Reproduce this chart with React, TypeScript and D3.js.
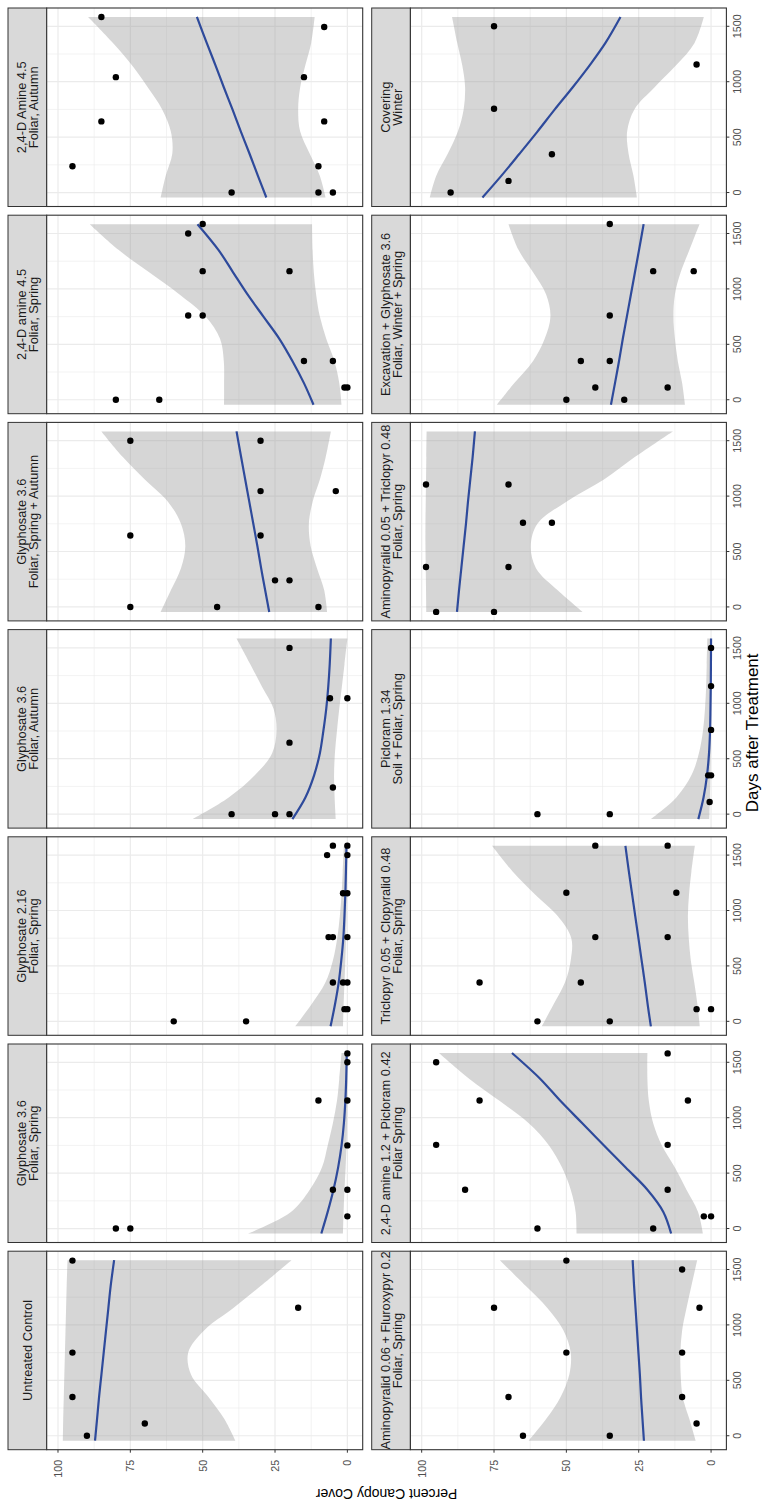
import React, { useEffect, useRef } from 'react';
import * as d3 from 'd3';

// facet order: first 7 = top row of the original (landscape) plot, next 7 = bottom row
const stripLabels = [
  ['Untreated Control'],
  ['Glyphosate 3.6', 'Foliar, Spring'],
  ['Glyphosate 2.16', 'Foliar, Spring'],
  ['Glyphosate 3.6', 'Foliar, Autumn'],
  ['Glyphosate 3.6', 'Foliar, Spring + Autumn'],
  ['2,4-D amine 4.5', 'Foliar, Spring'],
  ['2,4-D Amine 4.5', 'Foliar, Autumn'],
  ['Aminopyralid 0.06 + Fluroxypyr 0.2', 'Foliar, Spring'],
  ['2,4-D amine 1.2 + Picloram 0.42', 'Foliar Spring'],
  ['Triclopyr 0.05 + Clopyralid 0.48', 'Foliar, Spring'],
  ['Picloram 1.34', 'Soil + Foliar, Spring'],
  ['Aminopyralid 0.05 + Triclopyr 0.48', 'Foliar, Spring'],
  ['Excavation + Glyphosate 3.6', 'Foliar, Winter + Spring'],
  ['Covering', 'Winter'],
];

// observations: [days after treatment, percent cover]
const pointsByPanel = [
  [[0, 90], [110, 70], [350, 95], [750, 95], [1155, 17], [1580, 95]],
  [[0, 80], [0, 75], [110, 0], [350, 5], [350, 0], [750, 0], [1155, 10], [1155, 0], [1500, 0], [1580, 0]],
  [[0, 60], [0, 35], [110, 0], [110, 1], [350, 5], [350, 1.5], [350, 0], [760, 6.5], [760, 5], [760, 0],
    [1155, 1.5], [1155, 0], [1500, 7], [1500, 0], [1585, 5], [1585, 0]],
  [[0, 40], [0, 25], [0, 20], [240, 5], [645, 20], [1045, 6], [1045, 0], [1500, 20]],
  [[0, 75], [0, 45], [0, 10], [240, 25], [240, 20], [645, 75], [645, 30], [1045, 30], [1045, 4], [1500, 75], [1500, 30]],
  [[0, 80], [0, 65], [110, 0], [110, 1], [350, 15], [350, 5], [760, 55], [760, 50], [1160, 50], [1160, 20], [1500, 55], [1585, 50]],
  [[0, 40], [0, 10], [0, 5], [237, 95], [237, 10], [642, 85], [642, 8], [1041, 80], [1041, 15], [1494, 8], [1584, 85]],
  [[0, 65], [0, 35], [110, 5], [350, 70], [350, 10], [750, 50], [750, 10], [1155, 75], [1155, 4], [1500, 10], [1580, 50]],
  [[0, 60], [0, 20], [110, 2.5], [110, 0], [350, 85], [350, 15], [755, 95], [755, 15], [1155, 80], [1155, 8], [1500, 95], [1580, 15]],
  [[0, 60], [0, 35], [110, 5], [110, 0], [350, 80], [350, 45], [760, 40], [760, 15], [1160, 50], [1160, 12], [1585, 40], [1585, 15]],
  [[0, 60], [0, 35], [110, 0.5], [350, 1], [350, 0], [760, 0], [1155, 0], [1500, 0]],
  [[-45, 95], [-45, 75], [360, 98.5], [360, 70], [760, 65], [760, 55], [1105, 98.5], [1105, 70]],
  [[0, 50], [0, 30], [110, 40], [110, 15], [350, 45], [350, 35], [760, 35], [1160, 20], [1160, 6], [1585, 35]],
  [[0, 90], [105, 70], [345, 55], [756, 75], [1155, 5], [1500, 75]],
];

// smoother at these days
const smoothDays = [-45, 150, 350, 550, 750, 950, 1150, 1350, 1584];

const fitByPanel = [
  [87.2, 86.5, 85.8, 85.0, 84.2, 83.4, 82.6, 81.8, 80.6],
  [9, 6.8, 4.8, 3.2, 2, 1.2, 0.7, 0.4, 0.2],
  [5.8, 4.3, 3, 2.1, 1.4, 1, 0.7, 0.5, 0.3],
  [19, 14.5, 11.5, 9.5, 8.3, 7.3, 6.6, 6.1, 5.7],
  [27, 28.4, 29.8, 31.1, 32.5, 33.9, 35.3, 36.7, 38.3],
  [11.7, 15, 19, 23.5, 29, 34.5, 39.5, 44.5, 51.8],
  [28, 30.9, 33.8, 36.8, 39.7, 42.7, 45.6, 48.6, 52],
  [23.2, 23.7, 24.2, 24.6, 25.1, 25.6, 26.1, 26.6, 27.1],
  [13.8, 16.5, 22, 29.5, 37, 44.5, 52, 59, 68.8],
  [20.8, 21.9, 22.9, 24, 25.1, 26.2, 27.3, 28.4, 29.6],
  [4.4, 2.6, 1.4, 0.7, 0.35, 0.2, 0.1, 0.05, 0],
  [87.8, 87.1, 86.3, 85.5, 84.7, 84.0, 83.2, 82.4, 81.6],
  [34.6, 33.2, 31.8, 30.5, 29.1, 27.7, 26.3, 24.9, 23.3],
  [79, 72.5, 66.2, 60, 54, 47.8, 41.9, 36.5, 31.3],
];

const lowerByPanel = [
  [38.7, 42.5, 48, 54, 55, 49.5, 39.5, 30, 19.3],
  [1.5, 1.3, 1.0, 0.6, 0.3, 0.1, 0, 0, 0],
  [1.5, 1.3, 1.0, 0.7, 0.45, 0.3, 0.2, 0.1, 0.05],
  [4, 4.4, 4.6, 4.3, 3.6, 2.8, 1.9, 1, 0],
  [7, 8, 10.5, 12.7, 13.3, 12, 9.5, 7.5, 5.7],
  [2, 2.8, 4.5, 7.3, 9.5, 10.8, 11.6, 12, 12.2],
  [7.5, 9.5, 13, 16.3, 17, 16.3, 14.5, 12.5, 11.3],
  [5.3, 7.5, 9.8, 10.5, 10.6, 10, 8.5, 6.8, 4.8],
  [2.8, 4.5, 8.5, 12.5, 17, 20, 21.5, 22, 22],
  [3.9, 4.7, 5.8, 7, 7.7, 8, 7.6, 6.8, 5.6],
  [0.6, 0.4, 0.25, 0.15, 0.1, 0.05, 0, 0, 0],
  [44.4, 53, 60.5, 62.3, 60, 50, 37, 26.5, 13.2],
  [9, 10, 11.5, 12.5, 13, 12.5, 10.5, 7.5, 4],
  [25.6, 26.8, 28.5, 29, 26.5, 19.5, 12, 5.7, 2.5],
];

const upperByPanel = [
  [98.3, 98.2, 98.0, 97.8, 97.6, 97.4, 97.2, 97.0, 96.7],
  [34.3, 19.5, 13, 8.8, 6.8, 5, 3.6, 2.8, 2],
  [18, 12.5, 7.6, 5, 3.5, 2.6, 2, 1.6, 1.2],
  [53.5, 41, 32, 26, 24.5, 25.5, 29.5, 33.5, 38.3],
  [64.5, 61, 57.5, 56, 57.5, 62, 70, 77.5, 85],
  [42.6, 42.6, 42.7, 44, 49, 58, 68.5, 79, 89],
  [64.5, 62.8, 60.5, 61, 64, 69, 74.5, 81, 89.6],
  [63, 57, 52, 49, 48.5, 51, 56.5, 64, 73],
  [46.5, 46.8, 48.5, 51.5, 56, 63, 73, 83.5, 94],
  [58.5, 54.5, 50.5, 48.5, 48.3, 53, 61, 68.5, 75.7],
  [20.8, 12, 6.8, 4.2, 2.8, 2.1, 1.7, 1.5, 1.3],
  [98.4, 98.5, 98.6, 98.7, 98.7, 98.6, 98.5, 98.4, 98.3],
  [74, 68, 61.5, 57.5, 55.5, 57, 61.5, 66.5, 70],
  [97.2, 95, 91, 87.5, 85.5, 85, 86, 87.7, 89.5],
];

const dayTicks = [0, 500, 1000, 1500];
const dayMinor = [250, 750, 1250];
const pctTicks = [0, 25, 50, 75, 100];
const pctMinor = [12.5, 37.5, 62.5, 87.5];

const FONT = "'Liberation Sans', Arial, Helvetica, sans-serif";

const App = () => {
  const svgRef = useRef(null);

  useEffect(() => {
    // plot is laid out landscape (1502 x 763) and turned a quarter turn
    const W = 1502;
    const left = 52.3;
    const panelW = 198.5;
    const gap = 8.7;
    const stripH = 38.7;
    const panelH = 316;
    const rowTop = [8, 371.7];

    const svg = d3.select(svgRef.current);
    svg.selectAll('*').remove();

    const root = svg.append('g').attr('transform', `translate(0,${W}) rotate(-90)`);
    const defs = svg.append('defs');

    const x = d3.scaleLinear().domain([-126, 1665]).range([0, panelW]);
    const y = d3.scaleLinear().domain([-5.3, 103.9]).range([panelH, 0]);

    const line = d3.line()
      .x((d) => x(d[0]))
      .y((d) => y(d[1]))
      .curve(d3.curveCatmullRom.alpha(0.5));

    const area = d3.area()
      .x((d) => x(d[0]))
      .y0((d) => y(d[1]))
      .y1((d) => y(d[2]))
      .curve(d3.curveCatmullRom.alpha(0.5));

    stripLabels.forEach((label, p) => {
      const r = Math.floor(p / 7);
      const c = p % 7;
      const px = left + c * (panelW + gap);
      const sy = rowTop[r];
      const py = sy + stripH;

      // strip
      defs.append('clipPath').attr('id', `strip-clip-${p}`)
        .append('rect').attr('x', px).attr('y', sy).attr('width', panelW).attr('height', stripH);
      root.append('rect')
        .attr('x', px).attr('y', sy).attr('width', panelW).attr('height', stripH)
        .attr('fill', '#D9D9D9').attr('stroke', '#333333').attr('stroke-width', 1);
      const st = root.append('g').attr('clip-path', `url(#strip-clip-${p})`);
      const fs = 12.8;
      const cy = sy + stripH / 2;
      const lh = 12;
      label.forEach((txt, i) => {
        const off = (i - (label.length - 1) / 2) * lh;
        st.append('text')
          .attr('x', px + panelW / 2)
          .attr('y', cy + off + fs * 0.36)
          .attr('text-anchor', 'middle')
          .attr('font-family', FONT)
          .attr('font-size', fs)
          .attr('fill', '#1A1A1A')
          .text(txt);
      });

      // panel
      const g = root.append('g').attr('transform', `translate(${px},${py})`);
      defs.append('clipPath').attr('id', `panel-clip-${p}`)
        .append('rect').attr('x', px).attr('y', py).attr('width', panelW).attr('height', panelH);
      g.append('rect').attr('width', panelW).attr('height', panelH).attr('fill', '#FFFFFF');

      const grid = g.append('g');
      dayMinor.forEach((d) => grid.append('line')
        .attr('x1', x(d)).attr('x2', x(d)).attr('y1', 0).attr('y2', panelH)
        .attr('stroke', '#EBEBEB').attr('stroke-width', 0.6));
      pctMinor.forEach((v) => grid.append('line')
        .attr('x1', 0).attr('x2', panelW).attr('y1', y(v)).attr('y2', y(v))
        .attr('stroke', '#EBEBEB').attr('stroke-width', 0.6));
      dayTicks.forEach((d) => grid.append('line')
        .attr('x1', x(d)).attr('x2', x(d)).attr('y1', 0).attr('y2', panelH)
        .attr('stroke', '#EBEBEB').attr('stroke-width', 1.2));
      pctTicks.forEach((v) => grid.append('line')
        .attr('x1', 0).attr('x2', panelW).attr('y1', y(v)).attr('y2', y(v))
        .attr('stroke', '#EBEBEB').attr('stroke-width', 1.2));

      const marks = root.append('g').attr('clip-path', `url(#panel-clip-${p})`)
        .append('g').attr('transform', `translate(${px},${py})`);

      const band = smoothDays.map((d, i) => [d, lowerByPanel[p][i], upperByPanel[p][i]]);
      marks.append('path').attr('d', area(band))
        .attr('fill', '#999999').attr('fill-opacity', 0.4);

      const fit = smoothDays.map((d, i) => [d, fitByPanel[p][i]]);
      marks.append('path').attr('d', line(fit))
        .attr('fill', 'none').attr('stroke', '#2E4A9B').attr('stroke-width', 2.2);

      marks.selectAll('circle.pt')
        .data(pointsByPanel[p])
        .enter().append('circle')
        .attr('class', 'pt')
        .attr('cx', (d) => x(d[0]))
        .attr('cy', (d) => y(d[1]))
        .attr('r', 3.2)
        .attr('fill', '#000000');

      g.append('rect').attr('width', panelW).attr('height', panelH)
        .attr('fill', 'none').attr('stroke', '#333333').attr('stroke-width', 1.1);

      // percent axis on first column
      if (c === 0) {
        pctTicks.forEach((v) => {
          g.append('line').attr('x1', -3).attr('x2', 0).attr('y1', y(v)).attr('y2', y(v))
            .attr('stroke', '#333333').attr('stroke-width', 1);
          g.append('text')
            .attr('x', -10).attr('y', y(v) + 10.8 * 0.36)
            .attr('text-anchor', 'end')
            .attr('font-family', FONT).attr('font-size', 10.8).attr('fill', '#4D4D4D')
            .text(v);
        });
      }
      // days axis on bottom row
      if (r === 1) {
        dayTicks.forEach((d) => {
          g.append('line').attr('x1', x(d)).attr('x2', x(d)).attr('y1', panelH).attr('y2', panelH + 3)
            .attr('stroke', '#333333').attr('stroke-width', 1);
          g.append('text')
            .attr('x', x(d)).attr('y', panelH + 14.3)
            .attr('text-anchor', 'middle')
            .attr('font-family', FONT).attr('font-size', 10.8).attr('fill', '#4D4D4D')
            .text(d);
        });
      }
    });

    const right = left + 7 * panelW + 6 * gap;
    root.append('text')
      .attr('x', (left + right) / 2 - 4).attr('y', 758)
      .attr('text-anchor', 'middle')
      .attr('font-family', FONT).attr('font-size', 17).attr('fill', '#000000')
      .text('Days after Treatment');

    const midY = (rowTop[0] + stripH + rowTop[1] + stripH + panelH) / 2;
    root.append('text')
      .attr('transform', `translate(13.5,${midY}) rotate(-90)`)
      .attr('text-anchor', 'middle')
      .attr('font-family', FONT).attr('font-size', 14).attr('fill', '#000000')
      .text('Percent Canopy Cover');
  }, []);

  return (
    <svg
      ref={svgRef}
      width={763}
      height={1502}
      style={{ position: 'absolute', left: 0, top: 0, display: 'block', background: '#FFFFFF' }}
    />
  );
};

export default App;
